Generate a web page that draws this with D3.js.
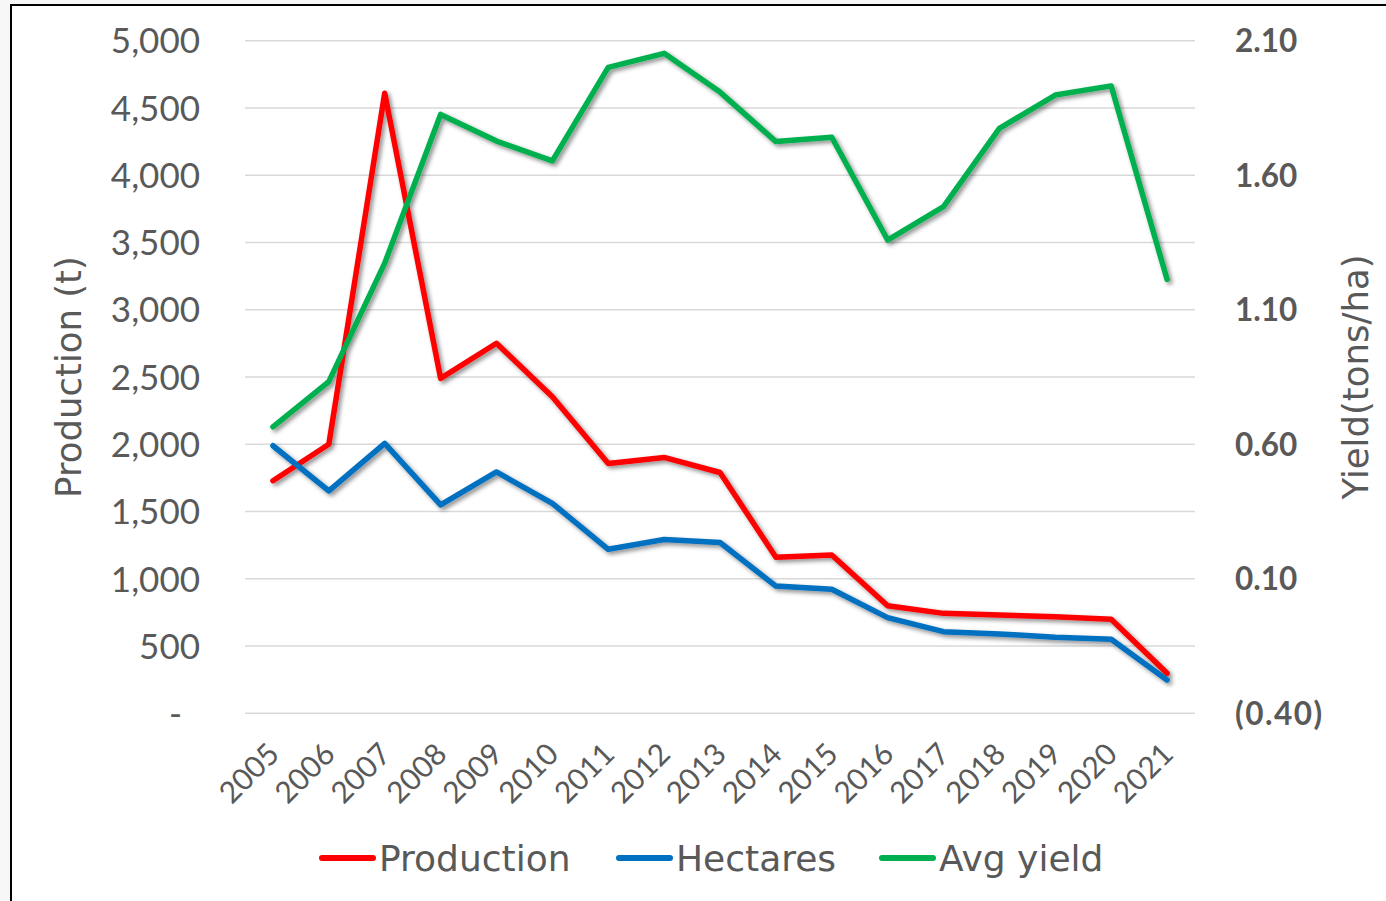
<!DOCTYPE html>
<html>
<head>
<meta charset="utf-8">
<script src="https://cdn.jsdelivr.net/npm/d3@7"></script>
<style>
  html, body { margin: 0; padding: 0; background: #ffffff; }
  svg { display: block; }
</style>
</head>
<body>
<svg id="chart" width="1386" height="901"></svg>
<script>
const years = ["2005","2006","2007","2008","2009","2010","2011","2012","2013","2014","2015","2016","2017","2018","2019","2020","2021"];
const production = [1729, 2000, 4609, 2490, 2751, 2354, 1857, 1902, 1790, 1160, 1177, 800, 743, 731, 718, 699, 297];
const hectares   = [1989, 1653, 2007, 1549, 1794, 1561, 1219, 1292, 1270, 946, 922, 711, 607, 590, 565, 550, 248];
const avgYield   = [0.665, 0.833, 1.273, 1.826, 1.727, 1.653, 2.001, 2.053, 1.909, 1.725, 1.741, 1.359, 1.483, 1.774, 1.898, 1.932, 1.213];
const leftTicks  = [0, 500, 1000, 1500, 2000, 2500, 3000, 3500, 4000, 4500, 5000];
const rightTicks = [-0.40, 0.10, 0.60, 1.10, 1.60, 2.10];
const seriesNames = ["Production", "Hectares", "Avg yield"];
const seriesColors = ["#FF0000", "#0070C0", "#00B050"];

const svg = d3.select("#chart");
const W = 1386, H = 901;
const plot = { left: 245, right: 1195, top: 40.7, bottom: 713.3 };
const wideFont = "'DejaVu Sans', Lato, sans-serif";
const tickFont = "Lato, 'DejaVu Sans', sans-serif";

svg.append("rect").attr("x", 0).attr("y", 0).attr("width", W).attr("height", H).attr("fill", "#f7f7f7");
svg.append("rect").attr("x", 11).attr("y", 5).attr("width", W + 20).attr("height", H + 20)
  .attr("fill", "#ffffff").attr("stroke", "#000000").attr("stroke-width", 2);

const defs = svg.append("defs");
const f = defs.append("filter").attr("id", "shadow").attr("x", "-10%").attr("y", "-10%").attr("width", "120%").attr("height", "120%");
f.append("feDropShadow").attr("dx", 2.5).attr("dy", 2.5).attr("stdDeviation", 2)
  .attr("flood-color", "#000000").attr("flood-opacity", 0.45);

const x = d3.scaleBand().domain(years).range([plot.left, plot.right]);
const xc = d => x(d) + x.bandwidth() / 2;
const yL = d3.scaleLinear().domain([0, 5000]).range([plot.bottom, plot.top]);
const yR = d3.scaleLinear().domain([-0.40, 2.10]).range([plot.bottom, plot.top]);

// gridlines
svg.append("g").selectAll("line").data(leftTicks).join("line")
  .attr("x1", plot.left).attr("x2", plot.right)
  .attr("y1", d => yL(d)).attr("y2", d => yL(d))
  .attr("stroke", "#D9D9D9").attr("stroke-width", 1.5);

// left axis
const fmtL = d => d === 0 ? "-" : d3.format(",")(d);
const axL = d3.axisLeft(yL).tickValues(leftTicks).tickFormat(fmtL).tickSize(0).tickPadding(0);
const gL = svg.append("g").attr("transform", `translate(200,0)`).call(axL);
gL.select(".domain").remove();
gL.selectAll("text").style("font-size", "35px").style("font-family", tickFont)
  .attr("fill", "#595959").attr("dy", "0.35em");
gL.selectAll(".tick").filter(d => d === 0).select("text").attr("transform", "translate(-18,0)");

// right axis
const fmtR = d => d < 0 ? "(" + d3.format(".2f")(-d) + ")" : d3.format(".2f")(d);
const axR = d3.axisRight(yR).tickValues(rightTicks).tickFormat(fmtR).tickSize(0).tickPadding(0);
const gR = svg.append("g").attr("transform", `translate(1235,0)`).call(axR);
gR.select(".domain").remove();
gR.selectAll("text").style("font-size", "31.5px").style("font-weight", "bold").style("font-family", tickFont)
  .attr("fill", "#595959").attr("dy", "0.35em")
  .style("letter-spacing", d => d < 0 ? "1.5px" : "0px");

// x axis labels
svg.append("g").selectAll("text").data(years).join("text")
  .attr("transform", d => `translate(${xc(d) + 8},${756}) rotate(-45)`)
  .attr("text-anchor", "end")
  .style("font-size", "30px").style("font-family", tickFont).attr("fill", "#595959")
  .text(d => d);

// axis titles
svg.append("text").attr("transform", `translate(81,${(plot.top + plot.bottom) / 2}) rotate(-90)`)
  .attr("text-anchor", "middle").style("font-size", "35.5px").style("font-family", wideFont)
  .attr("fill", "#595959").text("Production (t)");
svg.append("text").attr("transform", `translate(1368,${(plot.top + plot.bottom) / 2}) rotate(-90)`)
  .attr("text-anchor", "middle").style("font-size", "35.5px").style("font-family", wideFont)
  .attr("fill", "#595959").text("Yield(tons/ha)");

// lines
const lineL = d3.line().x((d, i) => xc(years[i])).y(d => yL(d));
const lineR = d3.line().x((d, i) => xc(years[i])).y(d => yR(d));
const gLines = svg.append("g").attr("filter", "url(#shadow)");
[[production, lineL, 0], [hectares, lineL, 1], [avgYield, lineR, 2]].forEach(([data, gen, k]) => {
  gLines.append("path").datum(data).attr("d", gen)
    .attr("fill", "none").attr("stroke", seriesColors[k]).attr("stroke-width", 5.5)
    .attr("stroke-linejoin", "round").attr("stroke-linecap", "round");
});

// legend
const legendX = [320, 617, 880];
const lg = svg.append("g");
seriesNames.forEach((n, i) => {
  lg.append("line").attr("x1", legendX[i] + 2).attr("x2", legendX[i] + 53)
    .attr("y1", 858).attr("y2", 858).attr("stroke", seriesColors[i]).attr("stroke-width", 6)
    .attr("stroke-linecap", "round");
  lg.append("text").attr("x", legendX[i] + 59).attr("y", 871)
    .style("font-size", "36px").style("font-family", wideFont).attr("fill", "#595959").text(n);
});
</script>
</body>
</html>
